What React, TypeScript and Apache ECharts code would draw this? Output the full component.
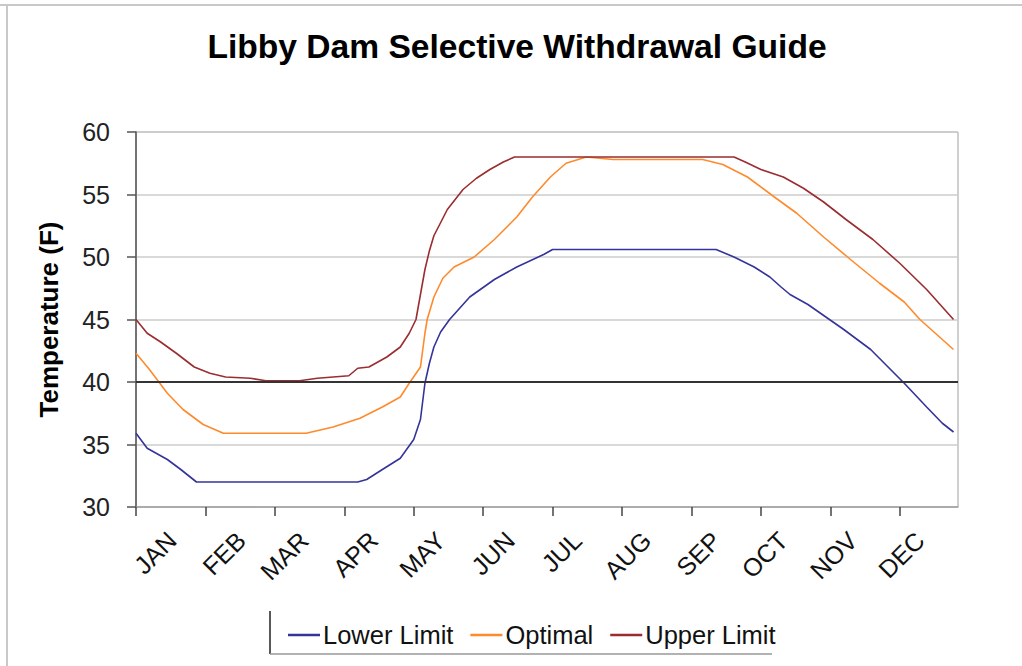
import React, { useEffect, useRef } from 'react';
import * as echarts from 'echarts';

const chartTitle = 'Libby Dam Selective Withdrawal Guide';
const months = ['JAN', 'FEB', 'MAR', 'APR', 'MAY', 'JUN', 'JUL', 'AUG', 'SEP', 'OCT', 'NOV', 'DEC'];
const monthStartDays = [0, 31, 59, 90, 120, 151, 181, 212, 243, 273, 304, 334];
const tickDays = [0, 31, 62, 93, 124, 155, 186, 217, 248, 279, 310, 341];
const referenceTemp = 40;

// [day of year, temperature °F]
const lowerLimit: [number, number][] = [
  [0, 35.9], [5, 34.7], [14, 33.8], [20, 33.0], [27, 32.0], [99, 32.0], [103, 32.2], [110, 33.0],
  [118, 33.9], [124, 35.4], [127, 37.0], [129, 39.9], [131, 41.5], [133, 42.8], [136, 44.0],
  [140, 45.0], [149, 46.8], [160, 48.2], [170, 49.2], [182, 50.2], [186, 50.6], [259, 50.6],
  [267, 50.0], [276, 49.2], [283, 48.4], [288, 47.6], [292, 47.0], [300, 46.2], [308, 45.2],
  [316, 44.2], [328, 42.6], [343, 39.9], [353, 38.0], [360, 36.7], [365, 36.0],
];
const optimal: [number, number][] = [
  [0, 42.3], [6, 41.0], [14, 39.1], [21, 37.8], [30, 36.6], [39, 35.9], [76, 35.9], [88, 36.4],
  [100, 37.1], [110, 38.0], [118, 38.8], [122, 39.9], [127, 41.2], [129, 43.9], [130, 45.0],
  [133, 46.8], [137, 48.3], [142, 49.2], [151, 50.0], [160, 51.4], [170, 53.2], [177, 54.8],
  [185, 56.4], [192, 57.5], [201, 58.0], [213, 57.8], [253, 57.8], [262, 57.4], [273, 56.4],
  [285, 54.8], [295, 53.5], [307, 51.6], [319, 49.8], [332, 47.9], [343, 46.4], [350, 45.0],
  [365, 42.6],
];
const upperLimit: [number, number][] = [
  [0, 45.0], [5, 43.9], [11, 43.2], [18, 42.3], [26, 41.2], [33, 40.7], [40, 40.4], [51, 40.3],
  [58, 40.1], [73, 40.1], [81, 40.3], [95, 40.5], [99, 41.1], [104, 41.2], [112, 42.0],
  [118, 42.8], [122, 43.9], [125, 45.0], [127, 47.0], [129, 49.0], [131, 50.5], [133, 51.7],
  [139, 53.8], [146, 55.4], [152, 56.3], [158, 57.0], [164, 57.6], [169, 58.0], [267, 58.0],
  [272, 57.6], [279, 57.0], [289, 56.4], [298, 55.5], [307, 54.4], [317, 53.0], [329, 51.4],
  [341, 49.5], [353, 47.4], [365, 45.0],
];

export default function App() {
  const ref = useRef<HTMLDivElement>(null);
  useEffect(() => {
    const chart = echarts.init(ref.current!, null, { renderer: 'svg' });
    const font = "'Liberation Sans', Arial, sans-serif";
    const labelDays = monthStartDays.map((d) => d + 16);
    chart.setOption({
      animation: false,
      backgroundColor: '#ffffff',
      title: {
        text: chartTitle,
        left: 512,
        textAlign: 'center',
        top: 24,
        textStyle: { fontFamily: font, fontSize: 33.6, fontWeight: 'bold', color: '#000' },
      },
      grid: {
        left: 136, right: 64, top: 132, bottom: 159,
        show: true, borderColor: '#a0a0a0', borderWidth: 1,
      },
      xAxis: {
        type: 'value',
        min: 0,
        max: 367,
        axisLine: { show: true, lineStyle: { color: '#a0a0a0', width: 1.5 } },
        axisTick: { show: true, customValues: tickDays, length: 9, lineStyle: { color: '#444', width: 1.5 } },
        axisLabel: {
          customValues: labelDays,
          rotate: 45,
          margin: 29,
          fontSize: 25,
          fontFamily: font,
          color: '#111',
          formatter: (v: number) => {
            const i = labelDays.indexOf(v);
            return i >= 0 ? months[i] : '';
          },
        },
        splitLine: { show: false },
      },
      yAxis: {
        type: 'value',
        min: 30,
        max: 60,
        interval: 5,
        name: 'Temperature (F)',
        nameLocation: 'middle',
        nameRotate: 90,
        nameGap: 74,
        nameTextStyle: { fontFamily: font, fontSize: 26, fontWeight: 'bold', color: '#000' },
        axisLine: { show: true, lineStyle: { color: '#555', width: 1.5 } },
        axisTick: { show: true, length: 9, lineStyle: { color: '#555', width: 1.5 } },
        axisLabel: { margin: 26, fontSize: 25, fontFamily: font, color: '#222' },
        splitLine: { show: true, lineStyle: { color: '#cccccc', width: 1.5 } },
      },
      legend: {
        left: 283,
        top: 617,
        icon: 'rect',
        itemWidth: 32,
        itemHeight: 2.5,
        itemGap: 17,
        textStyle: { fontFamily: font, fontSize: 25.5, color: '#111', padding: [0, 0, 0, -2] },
        data: ['Lower Limit', 'Optimal', 'Upper Limit'],
      },
      series: [
        {
          name: 'Lower Limit', type: 'line', data: lowerLimit, symbol: 'none',
          lineStyle: { color: '#34349a', width: 1.6 }, itemStyle: { color: '#34349a' },
          markLine: {
            silent: true, symbol: ['none', 'none'], label: { show: false },
            lineStyle: { color: '#333', width: 2, type: 'solid' },
            data: [{ yAxis: referenceTemp }],
          },
        },
        {
          name: 'Optimal', type: 'line', data: optimal, symbol: 'none',
          lineStyle: { color: '#ff8a2b', width: 1.6 }, itemStyle: { color: '#ff8a2b' },
        },
        {
          name: 'Upper Limit', type: 'line', data: upperLimit, symbol: 'none',
          lineStyle: { color: '#9b2d30', width: 1.6 }, itemStyle: { color: '#9b2d30' },
        },
      ],
      graphic: [
        { type: 'line', shape: { x1: 0, y1: 5, x2: 1022, y2: 5 }, style: { stroke: '#c8c8c8', lineWidth: 2 } },
        { type: 'line', shape: { x1: 7, y1: 5, x2: 7, y2: 666 }, style: { stroke: '#c8c8c8', lineWidth: 2 } },
        { type: 'line', shape: { x1: 270, y1: 611, x2: 270, y2: 654 }, style: { stroke: '#222', lineWidth: 1.5 } },
        { type: 'line', shape: { x1: 270, y1: 654, x2: 772, y2: 654 }, style: { stroke: '#999', lineWidth: 1.5 } },
      ],
    });
    return () => chart.dispose();
  }, []);
  return (
    <div
      ref={ref}
      style={{ position: 'fixed', left: 0, top: 0, width: 1022, height: 666, background: '#fff' }}
    />
  );
}
